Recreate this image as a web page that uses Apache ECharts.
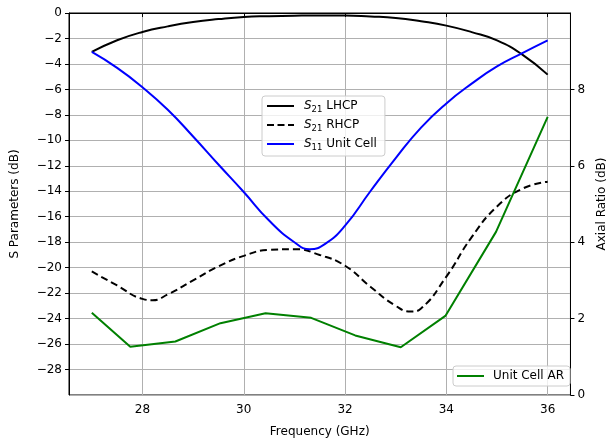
<!DOCTYPE html>
<html><head><meta charset="utf-8">
<script src="https://cdn.jsdelivr.net/npm/echarts@6/dist/echarts.min.js"></script>
<style>html,body{margin:0;padding:0;background:#fff}#c{width:616px;height:444px}</style>
</head><body><div id="c"></div>
<script>
// S-parameter curves (GHz, dB)
const freqS = [27,27.5,28,28.5,29,29.5,30,30.5,31,31.5,32,32.5,33,33.5,34,34.5,35,35.5,36];
const lhcp  = [-3.06,-2.14,-1.49,-1.05,-0.71,-0.48,-0.31,-0.25,-0.21,-0.19,-0.19,-0.27,-0.39,-0.65,-0.99,-1.5,-2.15,-3.27,-4.84];
const freqS11 = [27,27.5,28,28.5,29,29.5,30,30.5,31,31.3,31.6,32,32.5,33,33.5,34,34.5,35,35.5,36];
const s11     = [-3.06,-4.31,-5.83,-7.6,-9.7,-11.9,-14.06,-16.3,-18.0,-18.55,-18.15,-16.7,-14.0,-11.4,-9.0,-7.1,-5.55,-4.2,-3.15,-2.15];
const freqR = [27,27.5,28,28.2,28.5,29,29.5,30,30.5,31,31.5,32,32.5,33,33.3,33.5,34,34.5,35,35.5,36];
const rhcp  = [-20.3,-21.4,-22.45,-22.55,-22.1,-21.0,-19.9,-19.07,-18.6,-18.55,-19.0,-19.85,-21.5,-23.0,-23.45,-23.2,-20.7,-17.6,-15.2,-13.8,-13.25];
// Axial ratio (GHz, dB)
const freqAR = [27,27.76,28.65,29.54,30.43,31.33,32.2,33.1,33.98,34.98,36];
const ar     = [2.15,1.26,1.40,1.88,2.14,2.02,1.56,1.25,2.07,4.27,7.28];

const zip = (xs, ys) => xs.map((x, i) => [x, ys[i]]);
const FONT = 'DejaVu Sans';
const minus = v => String(v).replace('-', '\u2212');
const rich = {
  i: {fontFamily: FONT, fontSize: 12, fontStyle: 'italic', color: '#000'},
  s: {fontFamily: FONT, fontSize: 8.5, color: '#000', padding: [7, 0, 0, 0]},
  n: {fontFamily: FONT, fontSize: 12, color: '#000'}
};
const legendFmt = name => {
  const m = name.match(/^S(\d\d) (.*)$/);
  if (m) return '{i|S}{s|' + m[1] + '}{n| ' + m[2] + '}';
  return '{n|' + name + '}';
};
const SOLID = 'path://M0,0h27v2h-27z';
const DASHED = 'path://M0,0h7v2h-7zM10.5,0h7v2h-7zM21,0h6v2h-6z';

const chart = echarts.init(document.getElementById('c'), null, {renderer: 'canvas'});
chart.setOption({
  animation: false,
  backgroundColor: '#fff',
  textStyle: {fontFamily: FONT},
  grid: {left: 69, right: 34, top: 13, bottom: 49, show: true, borderColor: '#000', borderWidth: 1, backgroundColor: 'transparent'},
  xAxis: {
    type: 'value', min: 26.55, max: 36.45, splitNumber: 5,
    name: 'Frequency (GHz)', nameLocation: 'middle', nameGap: 31,
    nameTextStyle: {fontFamily: FONT, fontSize: 12, color: '#000'},
    axisLine: {lineStyle: {color: '#000', width: 1}},
    axisTick: {length: 4, lineStyle: {color: '#000'}},
    axisLabel: {fontFamily: FONT, fontSize: 12, color: '#000', margin: 9, showMinLabel: false, showMaxLabel: false, formatter: minus},
    splitLine: {show: true, lineStyle: {color: '#b0b0b0', width: 1}}
  },
  yAxis: [{
    type: 'value', min: -30, max: 0, interval: 2,
    name: 'S Parameters (dB)', nameLocation: 'middle', nameGap: 48, nameRotate: 90,
    nameTextStyle: {fontFamily: FONT, fontSize: 12, color: '#000'},
    axisLine: {show: true, lineStyle: {color: '#000', width: 1}},
    axisTick: {show: true, length: 4, lineStyle: {color: '#000'}},
    axisLabel: {fontFamily: FONT, fontSize: 12, color: '#000', margin: 7, showMinLabel: false, formatter: minus},
    splitLine: {show: true, lineStyle: {color: '#b0b0b0', width: 1}}
  }, {
    type: 'value', min: 0, max: 10, interval: 2, position: 'right',
    name: 'Axial Ratio (dB)', nameLocation: 'middle', nameGap: 25, nameRotate: 90,
    nameTextStyle: {fontFamily: FONT, fontSize: 12, color: '#000'},
    axisLine: {show: true, lineStyle: {color: '#000', width: 1}},
    axisTick: {show: true, length: 4, lineStyle: {color: '#000'}},
    axisLabel: {fontFamily: FONT, fontSize: 12, color: '#000', margin: 7, showMaxLabel: false, formatter: minus},
    splitLine: {show: false}
  }],
  legend: [{
    orient: 'vertical', left: 262, top: 96,
    data: [{name: 'S21 LHCP', icon: SOLID}, {name: 'S21 RHCP', icon: DASHED}, {name: 'S11 Unit Cell', icon: SOLID}],
    itemWidth: 27, itemHeight: 2, itemGap: 5,
    padding: [4, 8, 4, 5],
    backgroundColor: 'rgba(255,255,255,0.8)', borderColor: '#cccccc', borderWidth: 1, borderRadius: 3,
    formatter: legendFmt,
    textStyle: {fontFamily: FONT, fontSize: 12, color: '#000', padding: [0, 0, 0, 5], rich: rich}
  }, {
    orient: 'vertical', left: 453, top: 366,
    data: [{name: 'Unit Cell AR', icon: SOLID}],
    itemWidth: 27, itemHeight: 2,
    padding: [4, 6, 4, 4],
    backgroundColor: 'rgba(255,255,255,0.8)', borderColor: '#cccccc', borderWidth: 1, borderRadius: 3,
    textStyle: {fontFamily: FONT, fontSize: 12, color: '#000', padding: [0, 0, 0, 4]}
  }],
  series: [{
    name: 'S21 LHCP', type: 'line', yAxisIndex: 0, data: zip(freqS, lhcp),
    smooth: 0.5, symbol: 'none', lineStyle: {color: '#000', width: 2}, itemStyle: {color: '#000'}
  }, {
    name: 'S21 RHCP', type: 'line', yAxisIndex: 0, data: zip(freqR, rhcp),
    smooth: 0.5, symbol: 'none', lineStyle: {color: '#000', width: 2, type: [7, 4]}, itemStyle: {color: '#000'}
  }, {
    name: 'S11 Unit Cell', type: 'line', yAxisIndex: 0, data: zip(freqS11, s11),
    smooth: 0.5, symbol: 'none', lineStyle: {color: '#0000ff', width: 2}, itemStyle: {color: '#0000ff'}
  }, {
    name: 'Unit Cell AR', type: 'line', yAxisIndex: 1, data: zip(freqAR, ar),
    symbol: 'none', lineStyle: {color: '#008000', width: 2}, itemStyle: {color: '#008000'}
  }]
});
</script></body></html>
